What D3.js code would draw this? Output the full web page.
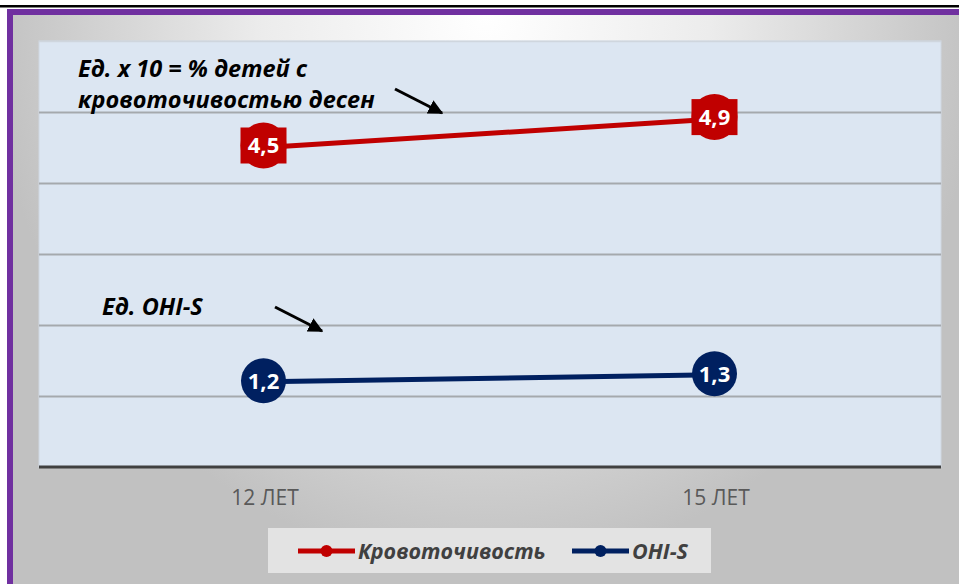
<!DOCTYPE html>
<html>
<head>
<meta charset="utf-8">
<script src="https://cdn.jsdelivr.net/npm/d3@7"></script>
<style>
  html, body { margin: 0; padding: 0; background: #fff; }
  svg { display: block; }
</style>
</head>
<body>
<div id="root"></div>
<script>
// data
const categories = ['12 ЛЕТ', '15 ЛЕТ'];
const bleeding = [4.5, 4.9];   // Кровоточивость (ед. х 10 = %)
const ohis = [1.2, 1.3];       // OHI-S
const yTicks = [0, 1, 2, 3, 4, 5, 6];
const seriesNames = ['Кровоточивость', 'OHI-S'];
const seriesColors = ['#c00000', '#002060'];

const W = 959, H = 584;
const plot = { left: 39, right: 941, top: 41, bottom: 467 };

const svg = d3.select('#root').append('svg')
  .attr('width', W)
  .attr('height', H);

const defs = svg.append('defs');
const grad = defs.append('radialGradient')
  .attr('id', 'bg')
  .attr('cx', '50%').attr('cy', '0%')
  .attr('r', '75%')
  .attr('gradientTransform', 'translate(0.5 0) scale(0.7 1.3) translate(-0.5 0)');
grad.append('stop').attr('offset', '0%').attr('stop-color', '#ffffff');
grad.append('stop').attr('offset', '45%').attr('stop-color', '#ececec');
grad.append('stop').attr('offset', '100%').attr('stop-color', '#c1c1c1');

const arrowMarker = defs.append('marker')
  .attr('id', 'arrow')
  .attr('viewBox', '0 0 10 10')
  .attr('refX', 9).attr('refY', 5)
  .attr('markerWidth', 5).attr('markerHeight', 5)
  .attr('markerUnits', 'strokeWidth')
  .attr('orient', 'auto');
arrowMarker.append('path').attr('d', 'M0,0 L10,5 L0,10 Z').attr('fill', '#000');

// page pieces: black rule and purple frame
svg.append('rect').attr('x', 0).attr('y', 5).attr('width', W).attr('height', 2.5).attr('fill', '#000');
svg.append('rect').attr('x', 7).attr('y', 9).attr('width', W - 7).attr('height', H - 9).attr('fill', '#7030a0');
svg.append('rect').attr('x', 13).attr('y', 15).attr('width', W - 13).attr('height', H - 15).attr('fill', 'url(#bg)');

// scales
const x = d3.scalePoint()
  .domain(categories)
  .range([plot.left, plot.right])
  .padding(0.5);
const y = d3.scaleLinear()
  .domain([0, 6])
  .range([plot.bottom, plot.top]);

// plot area
svg.append('rect')
  .attr('x', plot.left).attr('y', plot.top)
  .attr('width', plot.right - plot.left).attr('height', plot.bottom - plot.top)
  .attr('fill', '#dce6f2')
  .attr('stroke', '#d0d8e2');

// gridlines
const grid = svg.append('g')
  .attr('transform', `translate(${plot.left},0)`)
  .call(d3.axisLeft(y).tickValues(yTicks.slice(1)).tickSize(-(plot.right - plot.left)).tickFormat(''));
grid.select('.domain').remove();
grid.selectAll('line').attr('stroke', '#a5a9ad').attr('stroke-width', 2);
grid.selectAll('.tick').filter(d => d === 6).select('line').attr('stroke', '#cfd6de').attr('stroke-width', 1.5);

// x axis
const xAxis = svg.append('g')
  .attr('transform', `translate(0,${plot.bottom})`)
  .call(d3.axisBottom(x).tickSize(0).tickPadding(23));
xAxis.select('.domain').remove();
xAxis.append('line')
  .attr('x1', plot.left).attr('x2', plot.right)
  .attr('stroke', '#404040').attr('stroke-width', 3);
xAxis.selectAll('text')
  .attr('font-family', 'Open Sans, sans-serif')
  .attr('font-size', 21)
  .attr('fill', '#595959');

// lines
const line = d3.line().x((d, i) => x(categories[i])).y(d => y(d));

svg.append('path').datum(bleeding)
  .attr('d', line).attr('fill', 'none')
  .attr('stroke', seriesColors[0]).attr('stroke-width', 5);
svg.append('path').datum(ohis)
  .attr('d', line).attr('fill', 'none')
  .attr('stroke', seriesColors[1]).attr('stroke-width', 5);

const fmt = d => String(d).replace('.', ',');

// red markers with square labels
const red = svg.append('g').selectAll('g').data(bleeding).join('g')
  .attr('transform', (d, i) => `translate(${x(categories[i]) - 1},${y(d) - 2})`);
red.append('circle').attr('r', 23).attr('fill', seriesColors[0]);
red.append('rect').attr('x', -23).attr('y', -18).attr('width', 46).attr('height', 36).attr('fill', seriesColors[0]);
red.append('text')
  .attr('text-anchor', 'middle').attr('dy', '0.36em')
  .attr('font-family', 'Open Sans, sans-serif').attr('font-weight', 'bold')
  .attr('font-size', 22).attr('fill', '#fff')
  .text(fmt);

// blue markers
const blue = svg.append('g').selectAll('g').data(ohis).join('g')
  .attr('transform', (d, i) => `translate(${x(categories[i]) - 1},${y(d) - 1})`);
blue.append('circle').attr('r', 22.5).attr('fill', seriesColors[1]);
blue.append('text')
  .attr('text-anchor', 'middle').attr('dy', '0.36em')
  .attr('font-family', 'Open Sans, sans-serif').attr('font-weight', 'bold')
  .attr('font-size', 22).attr('fill', '#fff')
  .text(fmt);

// annotations
const note = svg.append('g')
  .attr('font-family', 'Open Sans, sans-serif')
  .attr('font-weight', 'bold').attr('font-style', 'italic')
  .attr('font-size', 23.5).attr('fill', '#000');
note.append('text').attr('x', 78).attr('y', 77).text('Ед. х 10 = % детей с');
note.append('text').attr('x', 78).attr('y', 108).text('кровоточивостью десен');
note.append('text').attr('x', 102).attr('y', 315).text('Ед. OHI-S');

svg.append('line')
  .attr('x1', 395).attr('y1', 89).attr('x2', 442).attr('y2', 113)
  .attr('stroke', '#000').attr('stroke-width', 3).attr('marker-end', 'url(#arrow)');
svg.append('line')
  .attr('x1', 275).attr('y1', 307).attr('x2', 322).attr('y2', 331)
  .attr('stroke', '#000').attr('stroke-width', 3).attr('marker-end', 'url(#arrow)');

// legend
const legend = svg.append('g');
legend.append('rect')
  .attr('x', 268).attr('y', 528).attr('width', 443).attr('height', 45)
  .attr('fill', '#e3e3e3');
const items = [
  { name: seriesNames[0], color: seriesColors[0], x: 298 },
  { name: seriesNames[1], color: seriesColors[1], x: 572 }
];
const li = legend.selectAll('g.item').data(items).join('g')
  .attr('class', 'item')
  .attr('transform', d => `translate(${d.x},551)`);
li.append('line').attr('x1', 0).attr('x2', 57)
  .attr('stroke', d => d.color).attr('stroke-width', 5);
li.append('circle').attr('cx', 28.5).attr('r', 6).attr('fill', d => d.color);
li.append('text')
  .attr('x', 60).attr('dy', '0.36em')
  .attr('font-family', 'Open Sans, sans-serif')
  .attr('font-weight', 'bold').attr('font-style', 'italic')
  .attr('font-size', 21.5).attr('fill', '#404040')
  .text(d => d.name);
</script>
</body>
</html>
